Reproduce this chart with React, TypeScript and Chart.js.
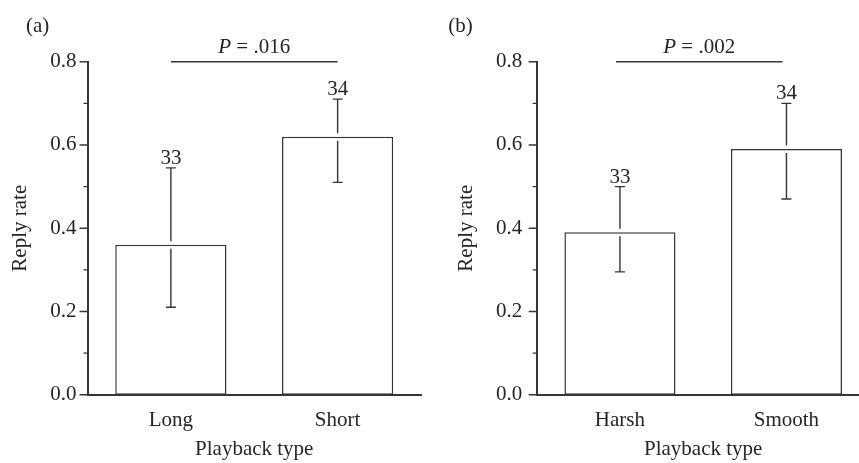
import React, { useEffect, useRef } from 'react';
import { Chart, registerables } from 'chart.js';

Chart.register(...registerables);

// ---- Data ----
const categoriesA = ['Long', 'Short'];
const meansA = [0.36, 0.62];
const lowerA = [0.21, 0.51];
const upperA = [0.545, 0.71];
const countsA = ['33', '34'];
const pValueA = '.016';
const panelLabelA = '(a)';

const categoriesB = ['Harsh', 'Smooth'];
const meansB = [0.39, 0.59];
const lowerB = [0.295, 0.47];
const upperB = [0.5, 0.7];
const countsB = ['33', '34'];
const pValueB = '.002';
const panelLabelB = '(b)';

const yMajorTicks = [0, 0.2, 0.4, 0.6, 0.8];
const yMinorTicks = [0.1, 0.3, 0.5, 0.7];
const yTitle = 'Reply rate';
const xTitle = 'Playback type';

const FONT = '"Liberation Serif", "Times New Roman", serif';
const FS = 21;
const LINE = '#363636';
const TEXT = '#262626';
const H = 463;

type PanelProps = {
  categories: string[];
  means: number[];
  lower: number[];
  upper: number[];
  counts: string[];
  pValue: string;
  panelLabel: string;
  left: number;
  width: number;
  axisX: number;
  areaRight: number;
  tickPad: number;
  titlePad: number;
  labelX: number;
  pLineOffset: number;
};

function Panel(p: PanelProps) {
  const ref = useRef<HTMLCanvasElement | null>(null);
  useEffect(() => {
    if (!ref.current) return;
    const top = 61.7;
    const bottom = 394.7;
    const overlay = {
      id: 'overlay',
      afterDraw(chart: any) {
        const ctx = chart.ctx as CanvasRenderingContext2D;
        const ys = chart.scales.y;
        const area = chart.chartArea;
        const ax = area.left;
        ctx.save();
        ctx.strokeStyle = LINE;
        ctx.lineWidth = 1.4;
        // tick marks
        ctx.beginPath();
        yMajorTicks.forEach((v) => {
          const py = ys.getPixelForValue(v);
          ctx.moveTo(ax - 8, py);
          ctx.lineTo(ax, py);
        });
        yMinorTicks.forEach((v) => {
          const py = ys.getPixelForValue(v);
          ctx.moveTo(ax - 4, py);
          ctx.lineTo(ax, py);
        });
        ctx.stroke();
        // error bars
        const meta = chart.getDatasetMeta(0);
        const centers: number[] = [];
        meta.data.forEach((el: any, i: number) => {
          const cx = el.x;
          centers.push(cx);
          const yTop = el.y;
          const yu = ys.getPixelForValue(p.upper[i]);
          const yl = ys.getPixelForValue(p.lower[i]);
          ctx.beginPath();
          ctx.moveTo(cx, yu);
          ctx.lineTo(cx, yTop - 3.5);
          ctx.moveTo(cx, yTop + 4);
          ctx.lineTo(cx, yl);
          ctx.moveTo(cx - 5, yu);
          ctx.lineTo(cx + 5, yu);
          ctx.moveTo(cx - 5, yl);
          ctx.lineTo(cx + 5, yl);
          ctx.stroke();
          ctx.fillStyle = TEXT;
          ctx.font = `${FS}px ${FONT}`;
          ctx.textAlign = 'center';
          ctx.textBaseline = 'alphabetic';
          ctx.fillText(p.counts[i], cx, yu - 4);
        });
        // significance line
        const lineY = ys.getPixelForValue(0.8);
        const x1 = centers[0] + p.pLineOffset;
        const x2 = centers[1] + p.pLineOffset;
        ctx.beginPath();
        ctx.moveTo(x1, lineY);
        ctx.lineTo(x2, lineY);
        ctx.stroke();
        // P text
        const italic = `italic ${FS}px ${FONT}`;
        const normal = `${FS}px ${FONT}`;
        const rest = ' = ' + p.pValue;
        ctx.font = italic;
        const wP = ctx.measureText('P').width;
        ctx.font = normal;
        const wR = ctx.measureText(rest).width;
        const startX = (x1 + x2) / 2 - (wP + wR) / 2;
        ctx.textAlign = 'left';
        ctx.fillStyle = TEXT;
        ctx.font = italic;
        ctx.fillText('P', startX, 53);
        ctx.font = normal;
        ctx.fillText(rest, startX + wP, 53);
        // panel label
        ctx.font = `${FS}px ${FONT}`;
        ctx.fillText(p.panelLabel, p.labelX, 31.5);
        ctx.restore();
      },
    };
    const chart = new Chart(ref.current, {
      type: 'bar',
      data: {
        labels: p.categories,
        datasets: [
          {
            data: p.means,
            backgroundColor: '#ffffff',
            borderColor: LINE,
            borderWidth: 1.5,
            borderSkipped: false,
            barPercentage: 0.667,
            categoryPercentage: 1,
          },
        ],
      },
      options: {
        responsive: false,
        maintainAspectRatio: false,
        animation: false,
        devicePixelRatio: 1,
        layout: { padding: { left: 0, top, right: p.width - p.areaRight, bottom: 0 } },
        plugins: { legend: { display: false }, tooltip: { enabled: false } },
        scales: {
          x: {
            type: 'category',
            offset: true,
            grid: { display: false, drawTicks: false },
            border: { display: true, color: LINE, width: 2 },
            ticks: { font: { family: FONT, size: FS }, color: TEXT, padding: 13 },
            title: {
              display: true,
              text: xTitle,
              font: { family: FONT, size: FS },
              color: TEXT,
              padding: { top: 0, bottom: 1 },
            },
            afterFit: (s: any) => {
              s.height = H - bottom;
            },
          },
          y: {
            min: 0,
            max: 0.8,
            grid: { display: false, drawTicks: false },
            border: { display: true, color: LINE, width: 2 },
            ticks: {
              stepSize: 0.2,
              font: { family: FONT, size: FS },
              color: TEXT,
              padding: p.tickPad,
              callback: (v: any) => Number(v).toFixed(1),
            },
            title: {
              display: true,
              text: yTitle,
              font: { family: FONT, size: FS },
              color: TEXT,
              padding: { top: p.titlePad, bottom: 0 },
            },
            afterFit: (s: any) => {
              s.width = p.axisX;
            },
          },
        },
      },
      plugins: [overlay],
    } as any);
    return () => chart.destroy();
  }, []);
  return (
    <canvas
      ref={ref}
      width={p.width}
      height={H}
      style={{ position: 'absolute', left: p.left, top: 0, width: p.width, height: H }}
    />
  );
}

export default function App() {
  return (
    <div
      style={{
        position: 'fixed',
        left: 0,
        top: 0,
        width: 859,
        height: H,
        overflow: 'hidden',
        background: '#ffffff',
      }}
    >
      <Panel
        categories={categoriesA}
        means={meansA}
        lower={lowerA}
        upper={upperA}
        counts={countsA}
        pValue={pValueA}
        panelLabel={panelLabelA}
        left={0}
        width={430}
        axisX={87.5}
        areaRight={421}
        tickPad={11}
        titlePad={8}
        labelX={26}
        pLineOffset={0}
      />
      <Panel
        categories={categoriesB}
        means={meansB}
        lower={lowerB}
        upper={upperB}
        counts={countsB}
        pValue={pValueB}
        panelLabel={panelLabelB}
        left={430}
        width={450}
        axisX={106.7}
        areaRight={439.7}
        tickPad={14.4}
        titlePad={24}
        labelX={18.3}
        pLineOffset={-4}
      />
    </div>
  );
}
